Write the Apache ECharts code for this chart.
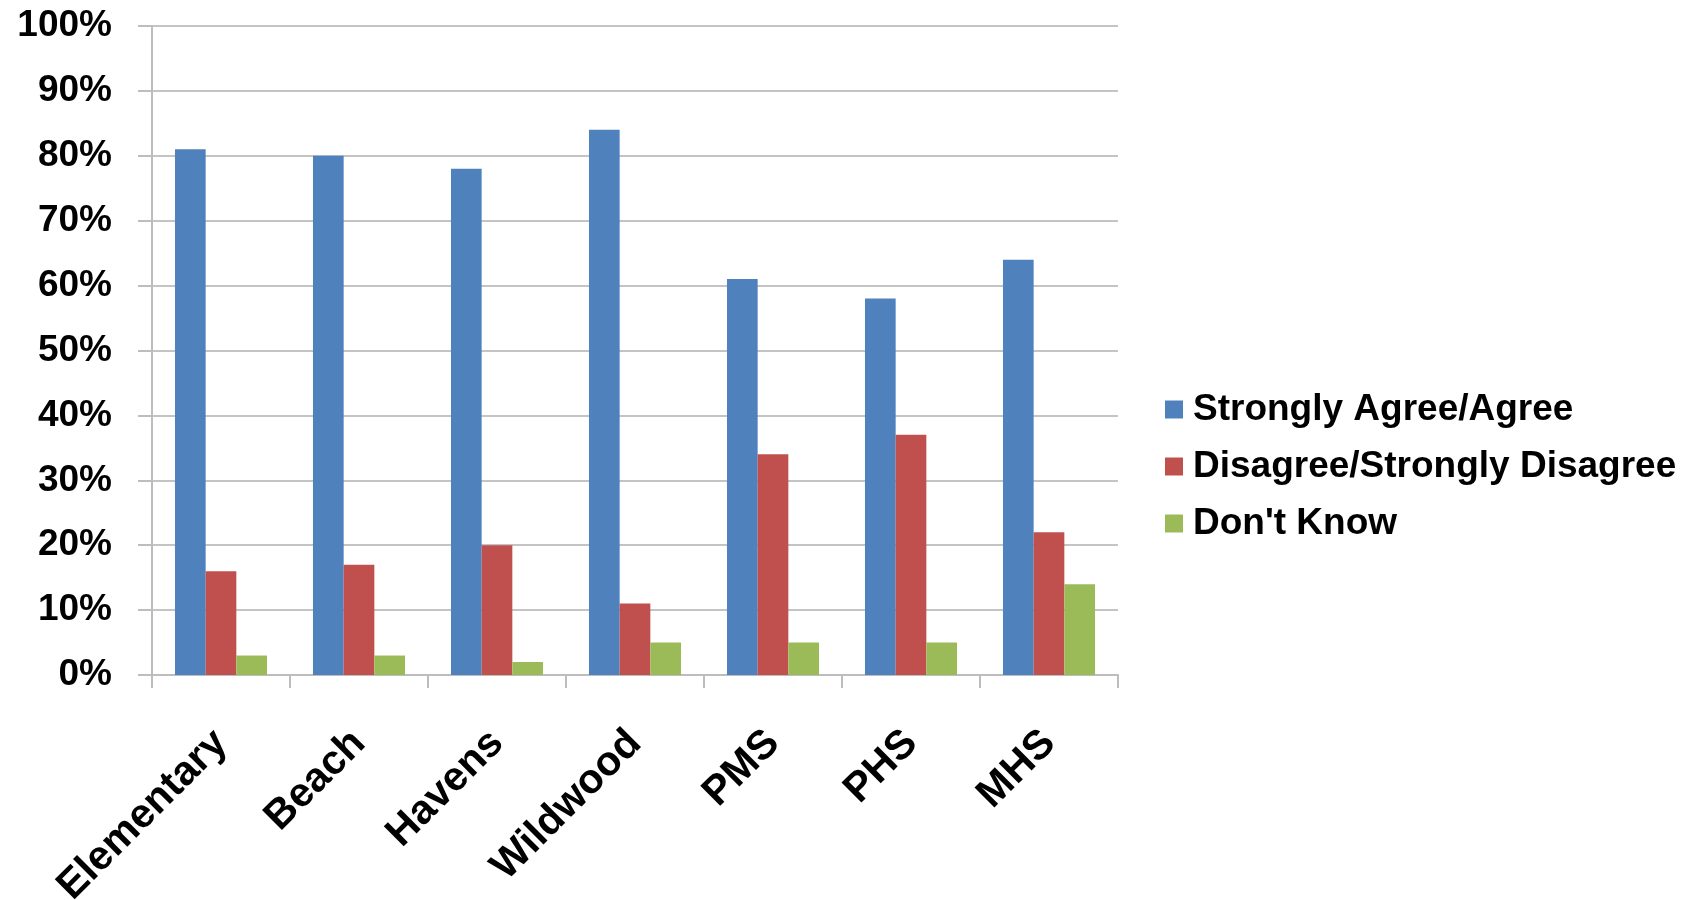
<!DOCTYPE html>
<html>
<head>
<meta charset="utf-8">
<script src="https://cdn.jsdelivr.net/npm/echarts@6/dist/echarts.min.js"></script>
<style>
html,body{margin:0;padding:0;background:#fff;}
#chart{width:1694px;height:900px;}
</style>
</head>
<body>
<div id="chart"></div>
<script>
const categories = ['Elementary', 'Beach', 'Havens', 'Wildwood', 'PMS', 'PHS', 'MHS'];
const seriesNames = ['Strongly Agree/Agree', 'Disagree/Strongly Disagree', "Don't Know"];
const agree = [81, 80, 78, 84, 61, 58, 64];
const disagree = [16, 17, 20, 11, 34, 37, 22];
const dontKnow = [3, 3, 2, 5, 5, 5, 14];
const colors = ['#4F81BD', '#C0504D', '#9BBB59'];

const font = '"Liberation Sans", Arial, sans-serif';
const chart = echarts.init(document.getElementById('chart'));
const values = [agree, disagree, dontKnow];
chart.setOption({
  animation: false,
  backgroundColor: '#ffffff',
  grid: { left: 152, right: 576, top: 26, bottom: 225, containLabel: false, outerBoundsMode: 'none' },
  legend: {
    orient: 'vertical',
    left: 1160,
    top: 386,
    itemWidth: 18,
    itemHeight: 18,
    itemGap: 20,
    icon: 'rect',
    data: seriesNames,
    textStyle: { fontFamily: font, fontSize: 37, fontWeight: 'bold', color: '#000', lineHeight: 37, padding: [0, 0, 0, 5] }
  },
  xAxis: {
    type: 'category',
    data: categories,
    axisLine: { lineStyle: { color: '#bdbdbd', width: 2 } },
    axisTick: { show: true, length: 13, lineStyle: { color: '#bdbdbd', width: 2 } },
    axisLabel: { rotate: 45, margin: 62, fontFamily: font, fontSize: 41, fontWeight: 'bold', color: '#000', interval: 0 }
  },
  yAxis: {
    type: 'value',
    min: 0, max: 100, interval: 10,
    axisLine: { show: true, lineStyle: { color: '#bdbdbd', width: 2 } },
    axisTick: { show: true, length: 14, lineStyle: { color: '#bdbdbd', width: 2 } },
    splitLine: { lineStyle: { color: '#c4c4c4', width: 2 } },
    axisLabel: { margin: 40, fontFamily: font, fontSize: 37, fontWeight: 'bold', color: '#000', formatter: '{value}%' }
  },
  series: seriesNames.map((name, i) => ({
    name: name,
    type: 'bar',
    data: values[i],
    barGap: '0%',
    barCategoryGap: '33.3%',
    itemStyle: { color: colors[i] }
  }))
});
</script>
</body>
</html>
